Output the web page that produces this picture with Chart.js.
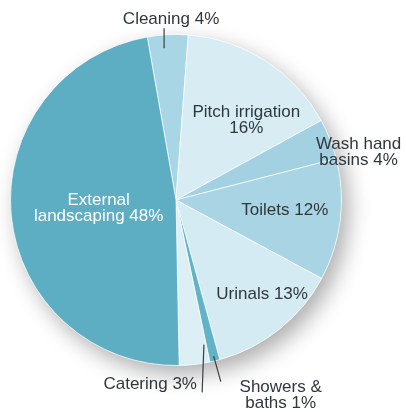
<!DOCTYPE html>
<html>
<head>
<meta charset="utf-8">
<title>Water use</title>
<script src="https://cdn.jsdelivr.net/npm/chart.js@4/dist/chart.umd.min.js"></script>
<style>
  html, body { margin: 0; padding: 0; background: #fff; }
</style>
</head>
<body>
<canvas id="water-use" width="406" height="412"></canvas>
<script>
// Share of water use by activity (%), clockwise from the top
const categories = ['Cleaning', 'Pitch irrigation', 'Wash hand basins', 'Toilets', 'Urinals', 'Showers & baths', 'Catering', 'External landscaping'];
const shares = [4, 16, 4, 12, 13, 1, 3, 48];

const sliceColors = ['#a9d6e4', '#d8ecf4', '#a3d1e1', '#a8d4e3', '#d4ebf3', '#62b3c7', '#dbeff5', '#5eaec3'];

// Label placement per slice: angle offset from the slice middle (deg),
// distance as a fraction of the radius, where to break the text, leader line
const labelLayout = [
  { dA: 1.3, r: 1.09, breakAt: 0, leader: [[-1.6, 0.92], [-1.1, 1.04]] },
  { dA: 8.8, r: 0.64, breakAt: 2 },
  { dA: 7.0, r: 1.14, breakAt: 2 },
  { dA: -1.7, r: 0.66, breakAt: 0 },
  { dA: -4.0, r: 0.77, breakAt: 0 },
  { dA: -14.6, r: 1.34, breakAt: 2, leader: [[0, 0.97], [-0.3, 1.13]] },
  { dA: 14.4, r: 1.125, breakAt: 0, leader: [[-4.5, 0.89], [-1.3, 1.173]] },
  { dA: -0.5, r: 0.47, breakAt: 1, color: '#ffffff' }
];

function labelText(i) {
  const words = `${categories[i]} ${shares[i]}%`.split(' ');
  const b = labelLayout[i].breakAt;
  if (!b) return [words.join(' ')];
  return [words.slice(0, b).join(' '), words.slice(b).join(' ')];
}

function polar(arc, dA, r) {
  const a = (arc.startAngle + arc.endAngle) / 2 + dA * Math.PI / 180;
  return [arc.x + Math.cos(a) * arc.outerRadius * r, arc.y + Math.sin(a) * arc.outerRadius * r];
}

// soft drop shadow under the pie
const pieShadow = {
  id: 'pieShadow',
  beforeDatasetsDraw(chart) {
    const arc = chart.getDatasetMeta(0).data[0];
    const ctx = chart.ctx;
    ctx.save();
    ctx.shadowColor = 'rgba(0,0,0,0.32)';
    ctx.shadowBlur = 22;
    ctx.shadowOffsetX = 7;
    ctx.shadowOffsetY = 9;
    ctx.fillStyle = '#ffffff';
    ctx.beginPath();
    ctx.arc(arc.x, arc.y, arc.outerRadius, 0, Math.PI * 2);
    ctx.fill();
    ctx.restore();
  }
};

// slice labels and leader lines
const sliceLabels = {
  id: 'sliceLabels',
  afterDatasetsDraw(chart) {
    const ctx = chart.ctx;
    const arcs = chart.getDatasetMeta(0).data;
    ctx.save();
    ctx.font = '17px "Liberation Sans", Arial, sans-serif';
    ctx.textAlign = 'center';
    ctx.textBaseline = 'middle';
    arcs.forEach((el, i) => {
      const arc = el.getProps(['x', 'y', 'startAngle', 'endAngle', 'outerRadius'], true);
      const lay = labelLayout[i];
      if (lay.leader) {
        const p0 = polar(arc, lay.leader[0][0], lay.leader[0][1]);
        const p1 = polar(arc, lay.leader[1][0], lay.leader[1][1]);
        ctx.strokeStyle = '#3a3f44';
        ctx.lineWidth = 1.2;
        ctx.beginPath();
        ctx.moveTo(p0[0], p0[1]);
        ctx.lineTo(p1[0], p1[1]);
        ctx.stroke();
      }
      const [lx, ly] = polar(arc, lay.dA, lay.r);
      const lines = labelText(i);
      const lh = 16;
      ctx.fillStyle = lay.color || '#2f373d';
      lines.forEach((t, k) => {
        ctx.fillText(t, lx, ly + (k - (lines.length - 1) / 2) * lh);
      });
    });
    ctx.restore();
  }
};

new Chart(document.getElementById('water-use'), {
  type: 'pie',
  data: {
    labels: categories,
    datasets: [{
      data: shares,
      backgroundColor: sliceColors,
      borderColor: 'rgba(255,255,255,0.7)',
      borderWidth: 1,
      hoverOffset: 0
    }]
  },
  options: {
    responsive: false,
    animation: false,
    rotation: -10,
    layout: { padding: { left: 10, right: 64, top: 34, bottom: 46 } },
    plugins: {
      legend: { display: false },
      tooltip: { enabled: false }
    }
  },
  plugins: [pieShadow, sliceLabels]
});
</script>
</body>
</html>
